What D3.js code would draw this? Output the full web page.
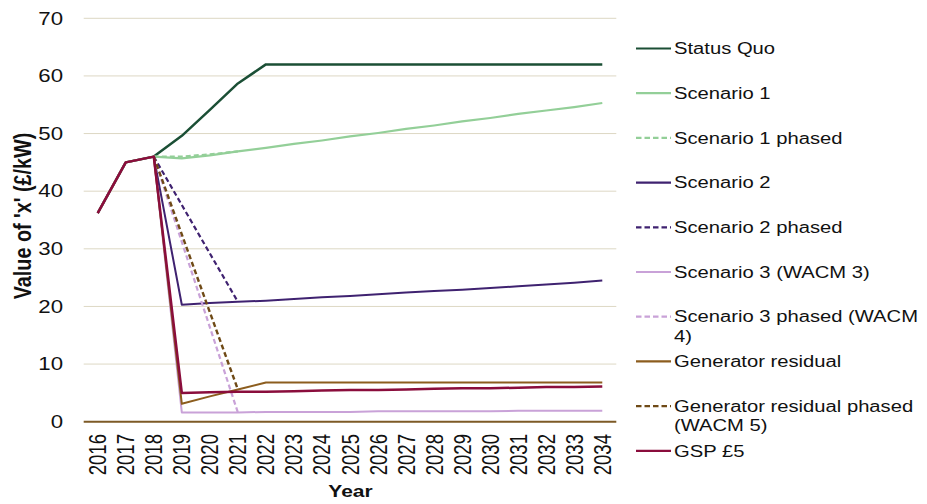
<!DOCTYPE html>
<html>
<head>
<meta charset="utf-8">
<script src="https://cdn.jsdelivr.net/npm/d3@7"></script>
<style>
  html, body { margin: 0; padding: 0; background: #fff; }
  svg { display: block; font-family: "Liberation Sans", Arial, sans-serif; }
</style>
</head>
<body>
<svg id="chart" width="927" height="504"></svg>
<script>
// Years on the category axis
const years = ["2016","2017","2018","2019","2020","2021","2022","2023","2024","2025",
               "2026","2027","2028","2029","2030","2031","2032","2033","2034"];
const yTicks = [0, 10, 20, 30, 40, 50, 60, 70];

// Value of 'x' (£/kW) per year for each scenario (null = no value)
const statusQuo = [36.2, 45.0, 46.0, 49.6, 54.1, 58.7, 62.0, 62.0, 62.0, 62.0, 62.0, 62.0, 62.0, 62.0, 62.0, 62.0, 62.0, 62.0, 62.0];
const scenario1 = [36.2, 45.0, 46.0, 45.7, 46.2, 46.9, 47.5, 48.2, 48.8, 49.5, 50.1, 50.8, 51.4, 52.1, 52.7, 53.4, 54.0, 54.6, 55.3];
const scenario1Phased = [null, null, 46.0, 46.0, 46.4, 46.9, null, null, null, null, null, null, null, null, null, null, null, null, null];
const scenario2 = [36.2, 45.0, 46.0, 20.3, 20.6, 20.8, 21.0, 21.3, 21.6, 21.8, 22.1, 22.4, 22.7, 22.9, 23.2, 23.5, 23.8, 24.1, 24.5];
const scenario2Phased = [null, null, 46.0, 37.6, 29.2, 20.8, null, null, null, null, null, null, null, null, null, null, null, null, null];
const scenario3 = [36.2, 45.0, 46.0, 1.6, 1.6, 1.6, 1.7, 1.7, 1.7, 1.7, 1.8, 1.8, 1.8, 1.8, 1.8, 1.9, 1.9, 1.9, 1.9];
const scenario3Phased = [null, null, 46.0, 31.2, 16.4, 1.6, null, null, null, null, null, null, null, null, null, null, null, null, null];
const generatorResidual = [36.2, 45.0, 46.0, 3.1, 4.4, 5.6, 6.8, 6.8, 6.8, 6.8, 6.8, 6.8, 6.8, 6.8, 6.8, 6.8, 6.8, 6.8, 6.8];
const generatorResidualPhased = [null, null, 46.0, 32.5, 19.0, 5.6, null, null, null, null, null, null, null, null, null, null, null, null, null];
const gsp5 = [36.2, 45.0, 46.0, 5.0, 5.1, 5.2, 5.2, 5.3, 5.4, 5.5, 5.5, 5.6, 5.7, 5.8, 5.8, 5.9, 6.0, 6.0, 6.1];

const seriesNames = ["Status Quo", "Scenario 1", "Scenario 1 phased", "Scenario 2", "Scenario 2 phased",
  "Scenario 3 (WACM 3)", "Scenario 3 phased (WACM 4)", "Generator residual",
  "Generator residual phased (WACM 5)", "GSP £5"];
const legendLines = [["Status Quo"], ["Scenario 1"], ["Scenario 1 phased"], ["Scenario 2"], ["Scenario 2 phased"],
  ["Scenario 3 (WACM 3)"], ["Scenario 3 phased (WACM", "4)"], ["Generator residual"],
  ["Generator residual phased", "(WACM 5)"], ["GSP £5"]];
const seriesValues = [statusQuo, scenario1, scenario1Phased, scenario2, scenario2Phased,
  scenario3, scenario3Phased, generatorResidual, generatorResidualPhased, gsp5];
const seriesColors = ["#1b4f35", "#93cf98", "#93cf98", "#3f2270", "#3f2270",
  "#c9a2d8", "#c9a2d8", "#8c5d1e", "#6f4a16", "#8a0d3c"];
const seriesDashed = [false, false, true, false, true, false, true, false, true, false];
const seriesWidths = [2.5, 2.2, 2.2, 2, 2.2, 2, 2.2, 2, 2.4, 2.5];

const svg = d3.select("#chart");
const W = 927, H = 504;
const plot = { left: 83.7, right: 616.3, top: 18.3, bottom: 421.7 };
const textStretch = 1.27;

svg.append("rect").attr("width", W).attr("height", H).attr("fill", "#fff");

const x = d3.scalePoint().domain(years).range([plot.left, plot.right]).padding(0.5);
const y = d3.scaleLinear().domain([0, 70]).range([plot.bottom, plot.top]);

// Horizontal gridlines
svg.append("g").selectAll("line").data(yTicks.filter(t => t > 0)).join("line")
  .attr("x1", plot.left).attr("x2", plot.right)
  .attr("y1", d => y(d)).attr("y2", d => y(d))
  .attr("stroke", "#ddd8c4").attr("stroke-width", 1);

// Y tick labels
const yLab = svg.append("g");
yTicks.forEach(t => {
  yLab.append("text")
    .attr("transform", `translate(63,${y(t)}) scale(${textStretch},1)`)
    .attr("dy", "0.36em")
    .attr("text-anchor", "end")
    .attr("font-size", 17.5)
    .attr("fill", "#111")
    .text(t);
});

// X tick labels (rotated)
const xLab = svg.append("g");
years.forEach(yr => {
  xLab.append("text")
    .attr("transform", `translate(${x(yr)},434) scale(${textStretch},1) rotate(-90)`)
    .attr("dy", "0.36em")
    .attr("text-anchor", "end")
    .attr("font-size", 18.6)
    .attr("fill", "#111")
    .text(yr);
});

// Axis titles
svg.append("text")
  .attr("transform", `translate(350.5,497) scale(1.22,1)`)
  .attr("text-anchor", "middle")
  .attr("font-size", 17.2).attr("font-weight", "bold").attr("fill", "#111")
  .text("Year");
svg.append("text")
  .attr("transform", `translate(22.5,216) scale(1.18,1) rotate(-90)`)
  .attr("dy", "0.36em")
  .attr("text-anchor", "middle")
  .attr("font-size", 19.8).attr("font-weight", "bold").attr("fill", "#111")
  .text("Value of 'x' (£/kW)");

// Series lines
const line = d3.line()
  .defined(d => d.v != null)
  .x(d => x(d.year))
  .y(d => y(d.v));

const lines = svg.append("g").attr("fill", "none")
  .attr("stroke-linejoin", "round");
seriesValues.forEach((vals, i) => {
  const pts = years.map((yr, j) => ({ year: yr, v: vals[j] }));
  lines.append("path")
    .attr("d", line(pts))
    .attr("stroke", seriesColors[i])
    .attr("stroke-width", seriesWidths[i])
    .attr("stroke-dasharray", seriesDashed[i] ? "5,3" : null);
});

// Zero axis line
svg.append("line")
  .attr("x1", plot.left).attr("x2", plot.right)
  .attr("y1", y(0)).attr("y2", y(0))
  .attr("stroke", "#7d5a26").attr("stroke-width", 2);

// Legend
const legend = svg.append("g");
const legTop = 48.5, legStep = 44.7;
seriesNames.forEach((name, i) => {
  const ly = legTop + i * legStep;
  legend.append("line")
    .attr("x1", 636).attr("x2", 671)
    .attr("y1", ly).attr("y2", ly)
    .attr("stroke", seriesColors[i])
    .attr("stroke-width", 2.2)
    .attr("stroke-dasharray", seriesDashed[i] ? "5.5,3" : null);
  legendLines[i].forEach((txt, k) => {
    legend.append("text")
      .attr("transform", `translate(674,${ly + k * 19.5}) scale(1.28,1)`)
      .attr("dy", "0.36em")
      .attr("font-size", 15.8)
      .attr("fill", "#111")
      .text(txt);
  });
});
</script>
</body>
</html>
